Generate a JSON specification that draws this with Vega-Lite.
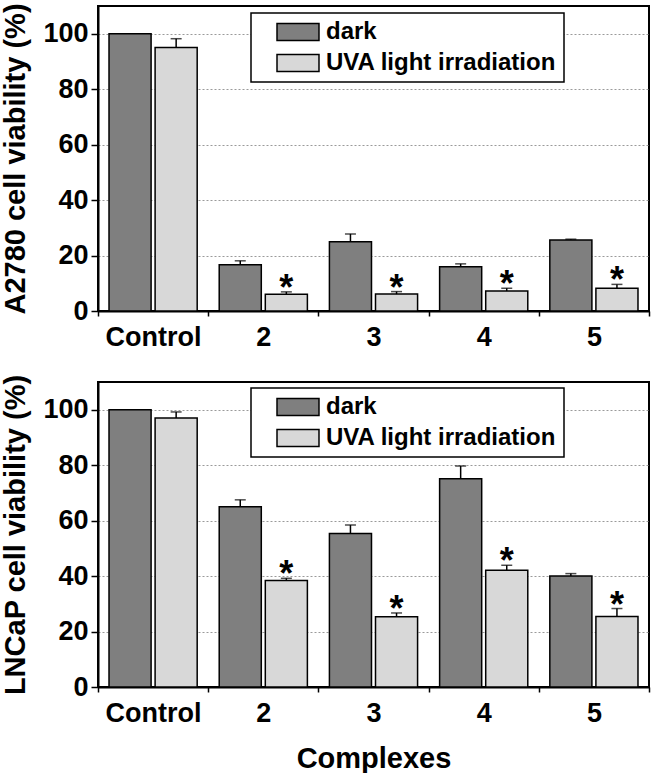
{
  "$schema": "https://vega.github.io/schema/vega-lite/v6.json",
  "padding": {"left": 0, "top": 1, "right": 1, "bottom": 0},
  "background": "white",
  "config": {
    "font": "Liberation Sans",
    "view": {"stroke": "black", "strokeWidth": 2},
    "axis": {
      "domainColor": "black", "domainWidth": 2, "tickColor": "black", "tickWidth": 1.5,
      "labelFont": "Liberation Sans", "labelFontWeight": "bold", "labelFontSize": 27, "labelColor": "black",
      "titleFont": "Liberation Sans", "titleFontWeight": "bold", "titleFontSize": 29, "titleColor": "black"
    },
    "legend": {
      "orient": "none", "title": null, "fillColor": "white", "strokeColor": "black",
      "padding": 7, "symbolType": "M-2.47,-1H2.47V1H-2.47Z", "symbolSize": 289,
      "symbolStrokeColor": "black", "symbolStrokeWidth": 1.5, "symbolOpacity": 1,
      "labelFont": "Liberation Sans", "labelFontWeight": "bold", "labelFontSize": 24, "labelColor": "black",
      "labelOffset": 16, "rowPadding": 7, "symbolOffset": 28, "labelLimit": 500,
      "labelExpr": "datum.label + '\u00a0\u00a0\u00a0\u00a0'"
    }
  },
  "data": {"values": [
    {"panel": "A2780", "complex": "Control", "cond": "dark", "value": 100, "hi": 100, "sig": ""},
    {"panel": "A2780", "complex": "Control", "cond": "UVA light irradiation", "value": 95, "hi": 98.2, "sig": ""},
    {"panel": "A2780", "complex": "2", "cond": "dark", "value": 16.7, "hi": 18.1, "sig": ""},
    {"panel": "A2780", "complex": "2", "cond": "UVA light irradiation", "value": 6.0, "hi": 6.9, "sig": "*"},
    {"panel": "A2780", "complex": "3", "cond": "dark", "value": 25.0, "hi": 27.8, "sig": ""},
    {"panel": "A2780", "complex": "3", "cond": "UVA light irradiation", "value": 6.1, "hi": 7.0, "sig": "*"},
    {"panel": "A2780", "complex": "4", "cond": "dark", "value": 16.0, "hi": 17.0, "sig": ""},
    {"panel": "A2780", "complex": "4", "cond": "UVA light irradiation", "value": 7.2, "hi": 8.2, "sig": "*"},
    {"panel": "A2780", "complex": "5", "cond": "dark", "value": 25.6, "hi": 25.9, "sig": ""},
    {"panel": "A2780", "complex": "5", "cond": "UVA light irradiation", "value": 8.2, "hi": 9.6, "sig": "*"},
    {"panel": "LNCaP", "complex": "Control", "cond": "dark", "value": 100, "hi": 100, "sig": ""},
    {"panel": "LNCaP", "complex": "Control", "cond": "UVA light irradiation", "value": 97.0, "hi": 99.2, "sig": ""},
    {"panel": "LNCaP", "complex": "2", "cond": "dark", "value": 65.0, "hi": 67.5, "sig": ""},
    {"panel": "LNCaP", "complex": "2", "cond": "UVA light irradiation", "value": 38.4, "hi": 39.2, "sig": "*"},
    {"panel": "LNCaP", "complex": "3", "cond": "dark", "value": 55.4, "hi": 58.4, "sig": ""},
    {"panel": "LNCaP", "complex": "3", "cond": "UVA light irradiation", "value": 25.3, "hi": 26.7, "sig": "*"},
    {"panel": "LNCaP", "complex": "4", "cond": "dark", "value": 75.1, "hi": 79.7, "sig": ""},
    {"panel": "LNCaP", "complex": "4", "cond": "UVA light irradiation", "value": 42.1, "hi": 43.9, "sig": "*"},
    {"panel": "LNCaP", "complex": "5", "cond": "dark", "value": 40.0, "hi": 40.9, "sig": ""},
    {"panel": "LNCaP", "complex": "5", "cond": "UVA light irradiation", "value": 25.4, "hi": 28.3, "sig": "*"}
  ]},
  "bounds": "flush",
  "spacing": 71,
  "resolve": {"scale": {"color": "independent"}, "legend": {"color": "independent"}},
  "vconcat": [
    {
      "width": 551, "height": 305,
      "transform": [{"filter": "datum.panel === 'A2780'"}],
      "encoding": {
        "x": {"field": "complex", "type": "nominal", "sort": ["Control", "2", "3", "4", "5"],
              "scale": {"paddingInner": 0, "paddingOuter": 0},
              "axis": {"title": null, "labelAngle": 0, "tickBand": "extent", "tickSize": 5, "labelPadding": 8, "grid": false}},
        "xOffset": {"field": "cond", "type": "nominal", "sort": ["dark", "UVA light irradiation"],
                    "scale": {"paddingInner": 0.087, "paddingOuter": 0.239}}
      },
      "layer": [
        {
          "mark": {"type": "bar", "stroke": "black", "strokeWidth": 1.5},
          "encoding": {
            "y": {"field": "value", "type": "quantitative", "scale": {"domain": [0, 110], "nice": false},
                  "axis": {"title": "A2780 cell viability (%)", "values": [0,10,20,30,40,50,60,70,80,90,100],
                           "labelExpr": "datum.value % 20 === 0 ? datum.label : ''",
                           "tickSize": {"condition": {"test": "datum.value % 20 === 0", "value": 7}, "value": 4},
                           "labelPadding": 3, "titlePadding": 12,
                           "grid": true, "gridColor": "#9a9a9a", "gridDash": [2, 2], "gridWidth": 1,
                           "gridOpacity": {"condition": {"test": "datum.value % 20 === 0 && datum.value > 0", "value": 1}, "value": 0}}},
            "color": {"field": "cond", "type": "nominal", "sort": ["dark", "UVA light irradiation"],
                      "scale": {"domain": ["dark", "UVA light irradiation"], "range": ["#7f7f7f", "#d8d8d8"]},
                      "legend": {"legendX": 153, "legendY": 7, "encode": {"legend": {"update": {"strokeWidth": {"value": 1.5}}}}}}
          }
        },
        {
          "transform": [{"filter": "datum.hi > datum.value"}],
          "mark": {"type": "rule", "color": "black", "strokeWidth": 1.5},
          "encoding": {"y": {"field": "value", "type": "quantitative"}, "y2": {"field": "hi"}}
        },
        {
          "transform": [{"filter": "datum.hi > datum.value"}],
          "mark": {"type": "tick", "color": "black", "thickness": 1.5, "size": 11, "orient": "horizontal"},
          "encoding": {"y": {"field": "hi", "type": "quantitative"}}
        },
        {
          "mark": {"type": "text", "fontSize": 36, "fontWeight": "bold", "baseline": "alphabetic", "dy": 8, "color": "black"},
          "encoding": {"y": {"field": "hi", "type": "quantitative"}, "text": {"field": "sig"}}
        }
      ]
    },
    {
      "width": 551, "height": 305,
      "transform": [{"filter": "datum.panel === 'LNCaP'"}],
      "encoding": {
        "x": {"field": "complex", "type": "nominal", "sort": ["Control", "2", "3", "4", "5"],
              "scale": {"paddingInner": 0, "paddingOuter": 0},
              "axis": {"title": "Complexes", "titlePadding": 18, "labelAngle": 0, "tickBand": "extent", "tickSize": 5, "labelPadding": 8, "grid": false}},
        "xOffset": {"field": "cond", "type": "nominal", "sort": ["dark", "UVA light irradiation"],
                    "scale": {"paddingInner": 0.087, "paddingOuter": 0.239}}
      },
      "layer": [
        {
          "mark": {"type": "bar", "stroke": "black", "strokeWidth": 1.5},
          "encoding": {
            "y": {"field": "value", "type": "quantitative", "scale": {"domain": [0, 110], "nice": false},
                  "axis": {"title": "LNCaP cell viability (%)", "values": [0,10,20,30,40,50,60,70,80,90,100],
                           "labelExpr": "datum.value % 20 === 0 ? datum.label : ''",
                           "tickSize": {"condition": {"test": "datum.value % 20 === 0", "value": 7}, "value": 4},
                           "labelPadding": 3, "titlePadding": 12,
                           "grid": true, "gridColor": "#9a9a9a", "gridDash": [2, 2], "gridWidth": 1,
                           "gridOpacity": {"condition": {"test": "datum.value % 20 === 0 && datum.value > 0", "value": 1}, "value": 0}}},
            "color": {"field": "cond", "type": "nominal", "sort": ["dark", "UVA light irradiation"],
                      "scale": {"domain": ["dark", "UVA light irradiation"], "range": ["#7f7f7f", "#d8d8d8"]},
                      "legend": {"legendX": 153, "legendY": 6, "encode": {"legend": {"update": {"strokeWidth": {"value": 1.5}}}}}}
          }
        },
        {
          "transform": [{"filter": "datum.hi > datum.value"}],
          "mark": {"type": "rule", "color": "black", "strokeWidth": 1.5},
          "encoding": {"y": {"field": "value", "type": "quantitative"}, "y2": {"field": "hi"}}
        },
        {
          "transform": [{"filter": "datum.hi > datum.value"}],
          "mark": {"type": "tick", "color": "black", "thickness": 1.5, "size": 11, "orient": "horizontal"},
          "encoding": {"y": {"field": "hi", "type": "quantitative"}}
        },
        {
          "mark": {"type": "text", "fontSize": 36, "fontWeight": "bold", "baseline": "alphabetic", "dy": 8, "color": "black"},
          "encoding": {"y": {"field": "hi", "type": "quantitative"}, "text": {"field": "sig"}}
        }
      ]
    }
  ]
}
